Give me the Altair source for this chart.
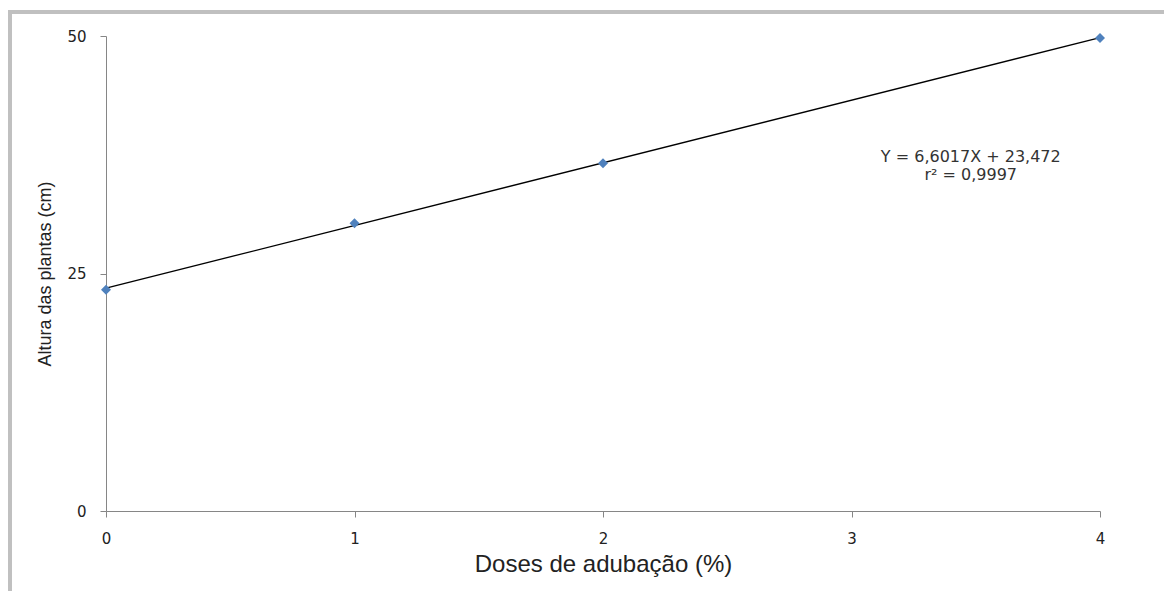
import altair as alt
import pandas as pd

doses = [0, 1, 2, 4]
altura = [23.3, 30.3, 36.6, 49.8]

eq_lines = ["Y = 6,6017X + 23,472", "r² = 0,9997"]
eq_x = [3.48, 3.48]
eq_y = [37.3, 35.4]

df = pd.DataFrame({"dose": doses, "altura": altura})
eq = pd.DataFrame({"x": eq_x, "y": eq_y, "t": eq_lines})

xs = alt.Scale(domain=[0, 4], nice=False, zero=False)
ys = alt.Scale(domain=[0, 50], nice=False)

xax = alt.Axis(values=[0, 1, 2, 3, 4], format="d", title="Doses de adubação (%)", grid=False,
               domainColor="#868686", tickColor="#868686", tickSize=6, labelFlush=False,
               labelFont="DejaVu Sans", labelFontSize=15, labelColor="#222222",
               labelPadding=14, titleFont="Liberation Sans", titleFontSize=24,
               titleFontWeight="normal", titleColor="#222222", titlePadding=6)
yax = alt.Axis(values=[0, 25, 50], format="d", title="Altura das plantas (cm)", grid=False,
               domainColor="#868686", tickColor="#868686", tickSize=6,
               labelFont="DejaVu Sans", labelFontSize=15, labelColor="#222222",
               labelPadding=14, titleFont="Liberation Sans", titleFontSize=18,
               titleFontWeight="normal", titleColor="#222222", titlePadding=12)

base = alt.Chart(df)

frame = base.mark_rect(fill=None, stroke="#c0c0c0", strokeWidth=4).encode(
    x=alt.value(-96), x2=alt.value(1100), y=alt.value(-24), y2=alt.value(700)
)

trend = base.transform_regression("dose", "altura").mark_line(
    color="#000000", strokeWidth=1.3
).encode(
    x=alt.X("dose:Q", scale=xs, axis=xax),
    y=alt.Y("altura:Q", scale=ys, axis=yax),
)

pts = base.mark_point(shape="diamond", filled=True, color="#4f81bd", size=100, opacity=1).encode(
    x=alt.X("dose:Q", scale=xs),
    y=alt.Y("altura:Q", scale=ys),
)

text = alt.Chart(eq).mark_text(font="DejaVu Sans", fontSize=16, color="#333333").encode(
    x=alt.X("x:Q", scale=xs), y=alt.Y("y:Q", scale=ys), text="t:N"
)

chart = alt.layer(frame, trend, pts, text).properties(
    width=994, height=475,
    autosize=alt.AutoSizeParams(type="none"),
    padding={"left": 98, "top": 28, "right": 64, "bottom": 80},
).configure_view(stroke=None)

chart.save("out.html", embed_options={"renderer": "svg", "actions": False})
